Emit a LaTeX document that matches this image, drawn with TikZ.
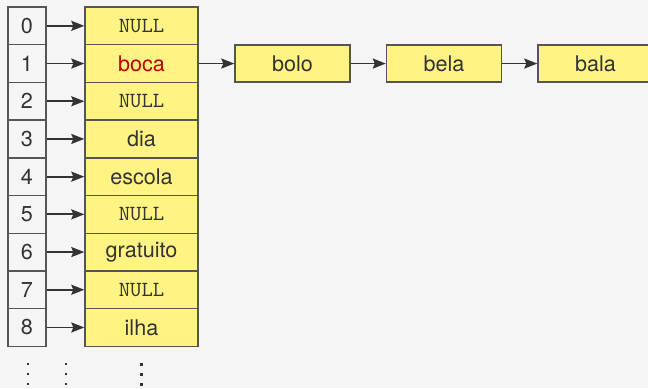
\documentclass[tikz,border=0pt]{standalone}
\usepackage{fontspec}
\setmainfont{TeX Gyre Heros}
\usetikzlibrary{arrows.meta}
\definecolor{fundo}{HTML}{F5F5F5}
\definecolor{amarelo}{HTML}{FFF483}
\definecolor{borda}{HTML}{555555}
\definecolor{texto}{HTML}{333333}
\definecolor{vermelho}{HTML}{C00000}
\newcommand{\nulo}{\texttt{NULL}}
\tikzset{
	indice/.style={draw=borda, line width=0.7pt, minimum width=19pt, minimum height=18.85pt, inner sep=0pt, text=texto, font=\fontsize{10.8}{13}\selectfont},
	celula/.style={indice, fill=amarelo, minimum width=56.5pt},
	noh/.style={celula, minimum width=57.5pt, minimum height=18.5pt},
	seta/.style={draw=texto, line width=0.9pt, -{Stealth[length=6.5pt,width=5pt,inset=1pt]}}
}

\begin{document}
\begin{tikzpicture}[x=0.5pt,y=-0.5pt]
				\useasboundingbox[fill=fundo] (0,0) rectangle (648,388);
				\clip (0,0) rectangle (648,388);
				% tabela
				\foreach \i/\palavra in {0/\nulo, 1/{\color{vermelho}boca}, 2/\nulo, 3/dia, 4/escola, 5/\nulo, 6/gratuito, 7/\nulo, 8/ilha} {
					\node[indice] (i\i) at (27,25.85+37.7*\i) {\i};
					\node[celula] (c\i) at (141.5,25.85+37.7*\i) {\palavra};
					\draw[seta] (i\i) -- (c\i);
				}
				% lista do 1
				\node[noh] (bolo) at (292.5,63.55) {bolo};
				\node[noh] (bela) at (444,63.55) {bela};
				\node[noh] (bala) at (595.5,63.55) {bala};
				\draw[seta] (c1) -- (bolo);
				\draw[seta] (bolo) -- (bela);
				\draw[seta] (bela) -- (bala);
				% reticencias
				\foreach \y in {364,374,384} {
					\fill[texto] (26.5,\y-1) rectangle (28.5,\y+1);
					\fill[texto] (64.5,\y-1) rectangle (66.5,\y+1);
					\fill[texto] (139.5,\y-1.5) rectangle (142.5,\y+1.5);
				}
			\end{tikzpicture}
\end{document}
